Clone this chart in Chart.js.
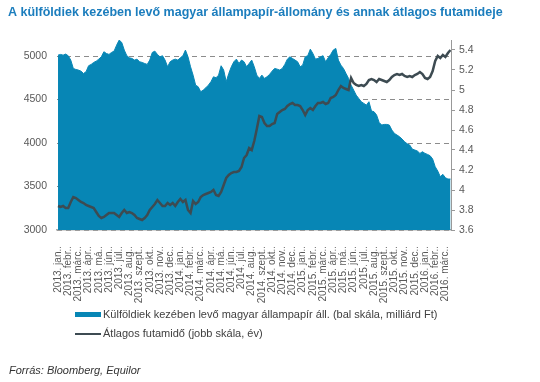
<!DOCTYPE html>
<html><head><meta charset="utf-8">
<script src="https://cdn.jsdelivr.net/npm/chart.js@4"></script>
<style>html,body{margin:0;padding:0;background:#fff}canvas{display:block}</style>
</head><body>
<canvas id="c" width="540" height="382"></canvas>
<script>
const TITLE = "A külföldiek kezében levő magyar állampapír-állomány és annak átlagos futamideje";
const SOURCE = "Forrás: Bloomberg, Equilor";
const SERIES_HOLDINGS = "Külföldiek kezében levő magyar állampapír áll. (bal skála, milliárd Ft)";
const SERIES_MATURITY = "Átlagos futamidő (jobb skála, év)";

const MONTH_LABELS = [
  "2013. jan..","2013. febr..","2013. márc..","2013. ápr..","2013. má..","2013. jún..","2013. júl..","2013. aug..","2013. szept..","2013. okt..","2013. nov..","2013. dec..",
  "2014. jan..","2014. febr..","2014. márc..","2014. ápr..","2014. má..","2014. jún..","2014. júl..","2014. aug..","2014. szept..","2014. okt..","2014. nov..","2014. dec..",
  "2015. jan..","2015. febr..","2015. márc..","2015. ápr..","2015. má..","2015. jún..","2015. júl..","2015. aug..","2015. szept..","2015. okt..","2015. nov..","2015. dec..",
  "2016. jan..","2016. febr..","2016. márc.."
];

// readings taken every quarter of a month, starting at 2013 jan
const STEP = 0.25;

// foreign-held HUF government securities, bn HUF (left scale)
const holdings = [
  5011,5019,5011,5023,5004,4954,4858,4846,4839,4827,4800,4820,
  4889,4904,4927,4942,4965,4992,5050,5030,5019,5042,5057,5126,
  5184,5157,5069,5004,4980,4973,4954,4965,4935,4927,4915,4904,
  4954,5042,5057,5019,4992,5004,4954,4877,4935,4954,4965,4954,
  4980,5004,5069,4992,4877,4781,4666,4647,4590,4609,4636,4666,
  4705,4762,4751,4781,4889,4839,4705,4800,4877,4935,4965,4915,
  4954,4935,4877,4915,4954,4877,4781,4743,4781,4743,4762,4789,
  4827,4858,4850,4839,4858,4904,4965,4992,4973,4954,4935,4877,
  4896,4992,5004,5080,5030,4965,4973,4992,5004,4935,4980,5019,
  5069,5088,4954,4896,4858,4800,4743,4666,4609,4551,4513,4475,
  4456,4436,4475,4368,4360,4322,4237,4207,4214,4214,4207,4149,
  4111,4092,4073,4046,4015,3992,3977,3931,3920,3908,3881,3900,
  3881,3869,3854,3816,3728,3678,3613,3640,3601,3586,3586
];

// average maturity, years (right scale)
const maturity = [
  3.84,3.83,3.84,3.82,3.82,3.88,3.93,3.92,3.90,3.88,3.87,3.85,
  3.84,3.83,3.82,3.78,3.74,3.72,3.73,3.75,3.77,3.77,3.77,3.75,
  3.73,3.77,3.80,3.77,3.78,3.77,3.75,3.72,3.71,3.70,3.72,3.75,
  3.80,3.83,3.86,3.90,3.87,3.84,3.84,3.87,3.85,3.87,3.84,3.88,
  3.91,3.88,3.90,3.80,3.77,3.89,3.86,3.88,3.93,3.95,3.96,3.97,
  3.98,4.00,3.95,3.94,3.98,4.05,4.12,4.15,4.17,4.18,4.18,4.19,
  4.23,4.32,4.35,4.42,4.40,4.49,4.61,4.74,4.73,4.67,4.64,4.64,
  4.66,4.67,4.76,4.78,4.80,4.81,4.84,4.86,4.87,4.85,4.85,4.84,
  4.80,4.75,4.80,4.82,4.80,4.84,4.87,4.87,4.88,4.86,4.87,4.92,
  4.93,4.95,5.00,5.04,5.02,5.01,5.00,5.12,5.07,5.05,5.04,5.05,
  5.04,5.06,5.10,5.11,5.10,5.08,5.11,5.10,5.09,5.08,5.10,5.13,
  5.15,5.16,5.15,5.16,5.14,5.13,5.14,5.13,5.15,5.16,5.18,5.16,
  5.12,5.11,5.13,5.19,5.29,5.34,5.32,5.35,5.33,5.37,5.40
];

const LEFT_TICKS = [3000, 3500, 4000, 4500, 5000];
const RIGHT_TICKS = [3.6, 3.8, 4.0, 4.2, 4.4, 4.6, 4.8, 5.0, 5.2, 5.4];

const toPoints = arr => arr.map((v, i) => ({ x: i * STEP, y: v }));

const BLUE = '#0786b5';
const DARK = '#3d4b52';
const GREY_TXT = '#595959';

Chart.defaults.font.family = '"Liberation Sans", Arial, Helvetica, sans-serif';

const textPlugin = {
  id: 'texts',
  afterDraw(chart) {
    const ctx = chart.ctx;
    ctx.save();
    ctx.textBaseline = 'middle';
    ctx.textAlign = 'left';
    ctx.fillStyle = '#1b7dbd';
    ctx.font = 'bold 12.5px "Liberation Sans", Arial, sans-serif';
    ctx.fillText(TITLE, 8, 13);

    const rows = [314.5, 334];
    chart.data.datasets.forEach((ds, i) => {
      const y = rows[i];
      ctx.strokeStyle = ds.borderColor;
      ctx.lineWidth = i === 0 ? 5 : 2;
      ctx.beginPath();
      ctx.moveTo(75, y);
      ctx.lineTo(101, y);
      ctx.stroke();
      ctx.fillStyle = '#404040';
      ctx.font = '11px "Liberation Sans", Arial, sans-serif';
      ctx.fillText(ds.label, 103, y);
    });

    ctx.fillStyle = '#333333';
    ctx.font = 'italic 11px "Liberation Sans", Arial, sans-serif';
    ctx.fillText(SOURCE, 9, 371);
    ctx.restore();
  }
};

new Chart(document.getElementById('c'), {
  type: 'line',
  data: {
    datasets: [
      {
        label: SERIES_HOLDINGS,
        data: toPoints(holdings),
        yAxisID: 'yL',
        borderColor: BLUE,
        backgroundColor: BLUE,
        borderWidth: 1,
        fill: 'start',
        pointRadius: 0,
        tension: 0,
        order: 2
      },
      {
        label: SERIES_MATURITY,
        data: toPoints(maturity),
        yAxisID: 'yR',
        borderColor: DARK,
        backgroundColor: DARK,
        borderWidth: 2.5,
        fill: false,
        pointRadius: 0,
        tension: 0,
        order: 1
      }
    ]
  },
  options: {
    responsive: false,
    animation: false,
    devicePixelRatio: 1,
    layout: { padding: { top: 40, left: 0, right: 0, bottom: 0 } },
    plugins: { legend: { display: false }, tooltip: { enabled: false }, title: { display: false } },
    scales: {
      x: {
        type: 'linear',
        min: -0.1,
        max: 38.55,
        afterBuildTicks: s => { s.ticks = MONTH_LABELS.map((_, i) => ({ value: i })); },
        afterFit: s => { s.height = 152; },
        ticks: {
          autoSkip: false, maxRotation: 90, minRotation: 90, padding: 8,
          font: { size: 10 }, color: GREY_TXT,
          callback: v => MONTH_LABELS[v]
        },
        grid: { display: false },
        border: { display: true, color: '#a9a9a9', width: 1.5 }
      },
      yL: {
        position: 'left',
        min: 3000,
        max: 5185,
        afterBuildTicks: s => { s.ticks = LEFT_TICKS.map(v => ({ value: v })); },
        afterFit: s => { s.width = 57; },
        ticks: { padding: 10, font: { size: 10.5 }, color: GREY_TXT, callback: v => String(v) },
        grid: { display: true, drawTicks: false, color: '#8c8c8c', lineWidth: 1 },
        border: { display: false, dash: [5, 4] }
      },
      yR: {
        position: 'right',
        min: 3.6,
        max: 5.5,
        afterBuildTicks: s => { s.ticks = RIGHT_TICKS.map(v => ({ value: v })); },
        afterFit: s => { s.width = 89; },
        ticks: { padding: 4, font: { size: 10.5 }, color: GREY_TXT, callback: v => String(+v.toFixed(1)) },
        grid: { display: true, drawOnChartArea: false, drawTicks: true, tickLength: 4, color: '#999999' },
        border: { display: true, color: '#999999', width: 1 }
      }
    }
  },
  plugins: [textPlugin]
});
</script>
</body></html>
